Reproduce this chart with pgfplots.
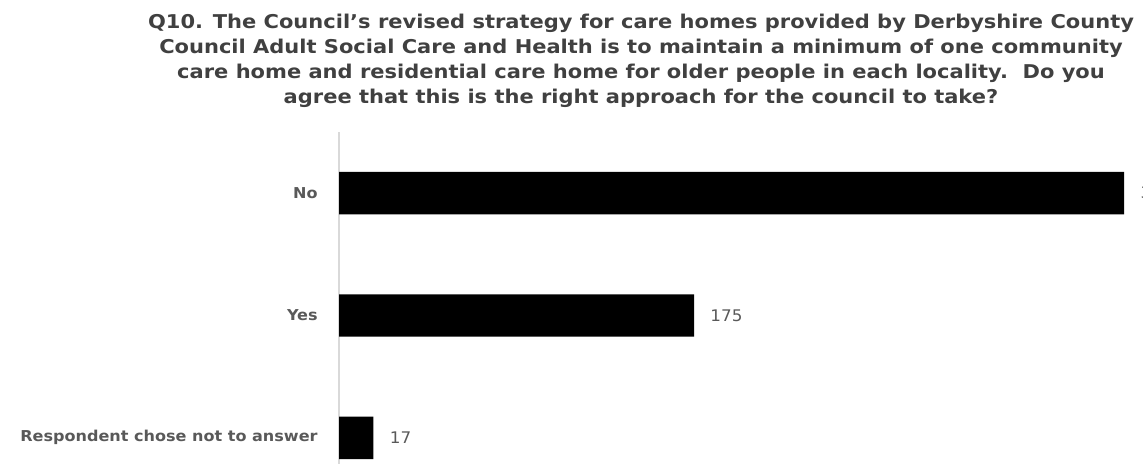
\documentclass[border=0pt]{standalone}
\usepackage{fontspec}
\setmainfont{DejaVu Sans}
\usepackage{pgfplots}
\pgfplotsset{compat=1.18}
\definecolor{titlegray}{HTML}{404040}
\definecolor{labgray}{HTML}{595959}
\definecolor{axgray}{HTML}{D9D9D9}
\begin{document}
\begin{tikzpicture}[x=1pt,y=1pt]
\useasboundingbox (0,0) rectangle (571.5,232);
\node[font=\bfseries\fontsize{9.5}{12.5}\selectfont, text=titlegray, anchor=north, inner sep=0pt] at (320.5,226.5) {\scalebox{1.105}[1]{\begin{tabular}{@{}c@{}}Q10. The Council’s revised strategy for care homes provided by Derbyshire County\\Council Adult Social Care and Health is to maintain a minimum of one community\\care home and residential care home for older people in each locality.\ \ Do you\\agree that this is the right approach for the council to take?\end{tabular}}};
\begin{axis}[
  at={(169.5pt,-17.5pt)}, anchor=south west,
  scale only axis, width=402pt, height=183.5pt,
  xmin=0, xmax=396.3, ymin=-0.5, ymax=2.5,
  axis x line=none,
  axis y line*=left,
  y axis line style={axgray, line width=0.8pt},
  ytick={0,1,2},
  yticklabels={\scalebox{1.07}[1]{Respondent chose not to answer}, \scalebox{1.07}[1]{Yes}, \scalebox{1.07}[1]{No}},
  major tick length=0pt,
  yticklabel style={font=\bfseries\fontsize{7.5}{9}\selectfont, text=labgray, inner sep=0pt, xshift=-10.5pt},
  /pgf/number format/assume math mode=true,
  clip=false,
]
\addplot[xbar, fill=black, draw=none, bar width=0.347,
  nodes near coords={\scalebox{1.05}[1]{\pgfmathprintnumber{\pgfplotspointmeta}}},
  nodes near coords style={font=\fontsize{8}{9}\selectfont, text=labgray, anchor=west, inner sep=0pt, xshift=8pt}]
  coordinates {(17,0) (175,1) (387,2)};
\end{axis}
\end{tikzpicture}
\end{document}
